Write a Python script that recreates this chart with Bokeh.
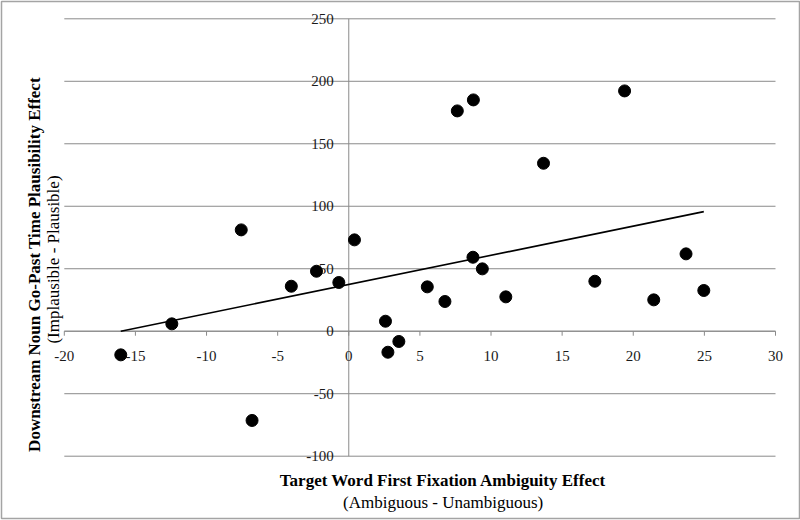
import numpy as np
from bokeh.plotting import figure
from bokeh.models import Range1d, Label
from bokeh.core.properties import value
from bokeh.embed import file_html
from bokeh.resources import INLINE

# ---- data ----
amb_effect = [-7.56, 0.40, 7.63, 8.76, 19.39, 13.69, 23.71, 8.73, -2.27, -4.04,
              -0.70, -12.44, -16.03, -6.80, 2.58, 2.75, 3.52, 9.39, 5.52, 6.76,
              11.04, 17.30, 21.44, 24.96]
plaus_effect = [81.1, 73.1, 176.3, 185.1, 192.3, 134.4, 61.9, 59.2, 48.0, 36.0,
                39.0, 5.9, -18.9, -71.4, 8.0, -16.8, -8.2, 49.9, 35.5, 23.8,
                27.5, 40.0, 25.1, 32.6]
x_ticks = [-20, -15, -10, -5, 0, 5, 10, 15, 20, 25, 30]
y_ticks = [-100, -50, 0, 50, 100, 150, 200, 250]

x_title = "Target Word First Fixation Ambiguity Effect"
x_sub = "(Ambiguous - Unambiguous)"
y_title = "Downstream Noun Go-Past Time Plausibility Effect"
y_sub = "(Implausible - Plausible)"

# linear trendline (least squares), drawn over the data's x extent
slope, intercept = np.polyfit(amb_effect, plaus_effect, 1)
trend_x = [min(amb_effect), max(amb_effect)]
trend_y = [slope * v + intercept for v in trend_x]

# ---- layout (pixels) ----
W, H = 800, 520
FL, FR, FT, FB = 1, 799, 1, 518          # frame (chart border) in canvas px
PL, PR, PT, PB = 63.8, 775.0, 18.3, 455.7  # plot area in canvas px
x_lo, x_hi = x_ticks[0], x_ticks[-1]
y_lo, y_hi = y_ticks[0], y_ticks[-1]
kx = (x_hi - x_lo) / (PR - PL)
ky = (y_hi - y_lo) / (PB - PT)
xr = Range1d(x_lo - (PL - FL) * kx, x_hi + (FR - PR) * kx)
yr = Range1d(y_lo - (FB - PB) * ky, y_hi + (PT - FT) * ky)

FONT = "Liberation Serif"
GRID = "#8a8a8a"

p = figure(width=W, height=H, output_backend="svg", toolbar_location=None,
           x_range=xr, y_range=yr,
           min_border_left=FL, min_border_right=W - FR,
           min_border_top=FT, min_border_bottom=H - FB)
p.axis.visible = False
p.grid.visible = False
p.background_fill_color = "white"
p.border_fill_color = "white"
p.outline_line_color = "#a4a4a4"
p.outline_line_width = 1.5

# horizontal gridlines
p.segment(x0=x_lo, x1=x_hi, y0=y_ticks, y1=y_ticks, line_color=GRID, line_width=1)
# axis lines crossing at zero
p.segment(x0=[0], y0=[y_lo], x1=[0], y1=[y_hi], line_color=GRID, line_width=1)
p.segment(x0=[x_lo], y0=[0], x1=[x_hi], y1=[0], line_color=GRID, line_width=1)
# x tick marks (pointing down)
tick_len = 4.5 * ky
p.segment(x0=x_ticks, y0=0, x1=x_ticks, y1=-tick_len, line_color=GRID, line_width=1)

# tick labels
p.text(x=x_ticks, y=0, text=[str(v) for v in x_ticks], y_offset=25,
       text_align="center", text_baseline="middle", text_font=value(FONT),
       text_font_size="15px", text_color="#1a1a1a")
p.text(x=0, y=y_ticks, text=[str(v) for v in y_ticks], x_offset=-15,
       text_align="right", text_baseline="middle", text_font=value(FONT),
       text_font_size="15px", text_color="#1a1a1a")

p.line(trend_x, trend_y, line_color="black", line_width=1.6)
p.scatter(amb_effect, plaus_effect, size=12, fill_color="black", line_color="black")

# axis titles (screen units relative to frame bottom-left)
def lab(cx, cy, txt, bold, angle=0.0):
    p.add_layout(Label(x=cx - FL, y=FB - cy, x_units="screen", y_units="screen",
                       text=txt, angle=angle, text_font=FONT, text_font_size="17px",
                       text_font_style="bold" if bold else "normal",
                       text_align="center", text_baseline="middle",
                       text_color="black"))

lab(442.6, 480.0, x_title, True)
lab(442.6, 501.7, x_sub, False)
lab(34.0, 264.0, y_title, True, np.pi / 2)
lab(53.0, 259.0, y_sub, False, np.pi / 2)

open("out.html", "w").write(file_html(p, INLINE))
